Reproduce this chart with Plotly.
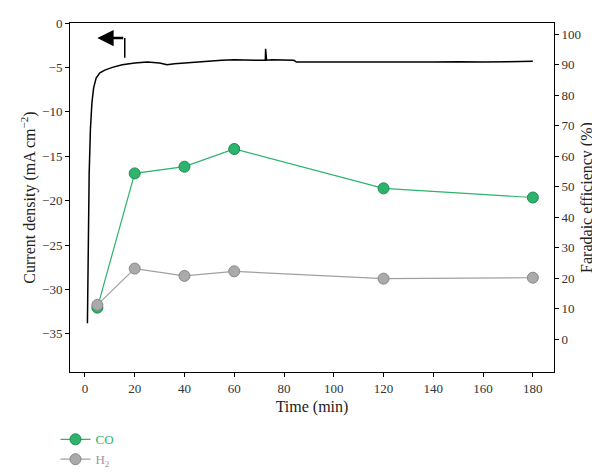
import plotly.graph_objects as go

# current density trace (left axis)
t_j = [1, 1.3, 1.7, 2.2, 2.8, 3.5, 4.5, 6, 8, 11, 15, 20, 25, 30, 33, 36, 40, 45, 50, 55, 60, 65, 70, 72.5, 72.6, 72.8, 73, 75, 80, 84, 85, 90, 100, 110, 120, 130, 140, 150, 160, 170, 180]
j = [-33.8, -24, -17, -12, -9, -7.3, -6.2, -5.6, -5.3, -5.0, -4.7, -4.5, -4.4, -4.5, -4.7, -4.6, -4.5, -4.4, -4.3, -4.2, -4.15, -4.15, -4.2, -4.2, -2.9, -4.1, -4.2, -4.15, -4.15, -4.2, -4.4, -4.4, -4.4, -4.4, -4.45, -4.4, -4.4, -4.35, -4.4, -4.35, -4.3]

# faradaic efficiency (right axis)
t_fe = [5, 20, 40, 60, 120, 180]
fe_co = [10.4, 54.4, 56.6, 62.4, 49.5, 46.5]
fe_h2 = [11.3, 23.2, 20.8, 22.3, 19.9, 20.2]

font = "Liberation Serif"
fig = go.Figure()
fig.add_trace(go.Scatter(x=t_j, y=j, mode="lines", line=dict(color="black", width=1.5), showlegend=False))
fig.add_trace(go.Scatter(x=t_fe, y=fe_co, yaxis="y2", name='<span style="color:#2db36b">CO</span>',
                         mode="lines+markers", line=dict(color="#2db36b", width=1.2),
                         marker=dict(size=11, color="#2db36b", line=dict(color="#1d8a4f", width=1))))
fig.add_trace(go.Scatter(x=t_fe, y=fe_h2, yaxis="y2", name='<span style="color:#999999">H<sub>2</sub></span>',
                         mode="lines+markers", line=dict(color="#a0a0a0", width=1.2),
                         marker=dict(size=11, color="#aaaaaa", line=dict(color="#888888", width=1))))

ax = dict(showline=True, linecolor="black", linewidth=1, ticks="outside", ticklen=4,
          tickcolor="black", mirror=False, showgrid=False, zeroline=False,
          tickfont=dict(size=13, family=font, color="#333"))
fig.update_layout(
    width=600, height=474, plot_bgcolor="white", paper_bgcolor="white",
    margin=dict(l=62, r=54, t=8, b=92),
    font=dict(family=font, size=13, color="#222"),
    xaxis=dict(ax, range=[-6, 188.5], tickvals=list(range(0, 181, 20)), mirror=True,
               title=dict(text="Time (min)", standoff=6)),
    yaxis=dict(ax, range=[-39.3, 0], tickvals=list(range(-35, 1, 5)),
               title=dict(text="Current density (mA cm<sup>−2</sup>)", standoff=2)),
    yaxis2=dict(ax, overlaying="y", side="right", range=[-10.7, 103.7],
                tickvals=list(range(0, 101, 10)),
                title=dict(text="Faradaic efficiency (%)", standoff=0)),
    legend=dict(x=-0.03, y=-0.15, xanchor="left", yanchor="top", tracegroupgap=4,
                font=dict(size=13, family=font)),
)
fig.add_annotation(x=5, y=-1.7, ax=16, ay=-1.7, xref="x", yref="y", axref="x", ayref="y",
                   showarrow=True, arrowhead=2, arrowsize=1.3, arrowwidth=2.5, arrowcolor="black", text="")
fig.add_shape(type="line", x0=16, x1=16, y0=-1.7, y1=-3.9, line=dict(color="black", width=1.5))
fig.write_html("out.html")
